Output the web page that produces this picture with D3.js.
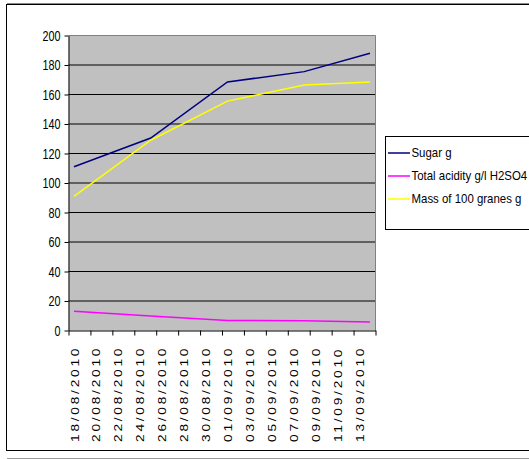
<!DOCTYPE html>
<html>
<head>
<meta charset="utf-8">
<script src="https://cdn.jsdelivr.net/npm/d3@7"></script>
<style>
  html, body { margin: 0; padding: 0; background: #fff; }
  svg { display: block; font-family: "Liberation Sans", Arial, sans-serif; }
</style>
</head>
<body>
<svg id="chart" width="529" height="459"></svg>
<script>
// Sampling dates and measurements
const sampleDates = ["18/08/2010", "25/08/2010", "01/09/2010", "08/09/2010", "14/09/2010"];
const sugar   = [111, 130.5, 168.5, 175.5, 188];
const acidity = [13, 9.8, 6.8, 6.6, 5.7];
const mass    = [91, 129, 155.5, 166.5, 168.5];

// Axis labels
const dateLabels = ["18/08/2010", "20/08/2010", "22/08/2010", "24/08/2010", "26/08/2010",
                    "28/08/2010", "30/08/2010", "01/09/2010", "03/09/2010", "05/09/2010",
                    "07/09/2010", "09/09/2010", "11/09/2010", "13/09/2010"];
const yTicks = [0, 20, 40, 60, 80, 100, 120, 140, 160, 180, 200];

const seriesNames  = ["Sugar g", "Total acidity g/l H2SO4", "Mass of 100 granes g"];
const seriesColors = ["#000080", "#FF00FF", "#FFFF00"];
const seriesValues = [sugar, acidity, mass];

const parseDate = d3.utcParse("%d/%m/%Y");
const HALF_DAY = 12 * 3600 * 1000;

const svg = d3.select("#chart");

// Chart area frame
svg.append("line").attr("x1", 7).attr("x2", 529).attr("y1", 3.5).attr("y2", 3.5)
  .attr("stroke", "#888").attr("stroke-width", 1);
svg.append("rect")
  .attr("x", 6.5).attr("y", 4.5).attr("width", 540).attr("height", 446)
  .attr("fill", "none").attr("stroke", "#000").attr("stroke-width", 1);
svg.append("line").attr("x1", 7).attr("x2", 529).attr("y1", 458.5).attr("y2", 458.5)
  .attr("stroke", "#999").attr("stroke-width", 1);

// Plot area
const plot = { left: 68.5, right: 375.5, top: 35.5, bottom: 330.5 };

const x = d3.scaleUtc()
  .domain([parseDate("18/08/2010"), parseDate("15/09/2010")])
  .range([plot.left, plot.right]);
const y = d3.scaleLinear().domain([0, 200]).range([plot.bottom, plot.top]);

svg.append("rect")
  .attr("x", plot.left).attr("y", plot.top)
  .attr("width", plot.right - plot.left).attr("height", plot.bottom - plot.top)
  .attr("fill", "#C0C0C0");

// Horizontal gridlines
svg.append("g").selectAll("line")
  .data(yTicks.filter(v => v > 0 && v < 200))
  .join("line")
  .attr("x1", plot.left).attr("x2", plot.right)
  .attr("y1", d => y(d)).attr("y2", d => y(d))
  .attr("stroke", "#000").attr("stroke-width", 1);

// Plot area border (top and right)
svg.append("path")
  .attr("d", `M${plot.left},${plot.top}H${plot.right}V${plot.bottom}`)
  .attr("fill", "none").attr("stroke", "#808080").attr("stroke-width", 1);

// Y axis
const ySx = 0.72;
const yAxis = svg.append("g")
  .attr("transform", `translate(${plot.left},0)`)
  .call(d3.axisLeft(y).tickValues(yTicks).tickSize(4).tickPadding(4).tickSizeOuter(0));
yAxis.select(".domain").attr("stroke", "#000");
yAxis.selectAll(".tick line").attr("stroke", "#000");
yAxis.selectAll(".tick text")
  .attr("font-size", 15)
  .attr("fill", "#000")
  .attr("font-family", "'Liberation Sans', Arial, sans-serif")
  .attr("x", -8 / ySx)
  .attr("transform", `scale(${ySx},1)`);

// X axis: ticks every two days on day boundaries
const tickDates = d3.utcDay.range(parseDate("18/08/2010"), d3.utcDay.offset(parseDate("15/09/2010"), 1), 2);
const xAxis = svg.append("g")
  .attr("transform", `translate(0,${plot.bottom})`)
  .call(d3.axisBottom(x).tickValues(tickDates).tickSize(5).tickSizeOuter(0).tickFormat(""));
xAxis.select(".domain").attr("stroke", "#000");
xAxis.selectAll(".tick line").attr("stroke", "#000");

// Rotated date labels
svg.append("g").selectAll("text")
  .data(dateLabels)
  .join("text")
  .attr("transform", d => {
    const cx = x(new Date(parseDate(d).getTime() + HALF_DAY)) + 1;
    return `translate(${cx},442) rotate(-90) scale(1.25,1)`;
  })
  .attr("dominant-baseline", "central")
  .attr("text-anchor", "start")
  .attr("font-size", 11)
  .attr("letter-spacing", 2.2)
  .attr("fill", "#000")
  .text(d => d);

// Series lines
const line = d3.line()
  .x((d, i) => x(new Date(parseDate(sampleDates[i]).getTime() + HALF_DAY)))
  .y(d => y(d));

svg.append("g").selectAll("path")
  .data(seriesValues)
  .join("path")
  .attr("d", d => line(d))
  .attr("fill", "none")
  .attr("stroke", (d, i) => seriesColors[i])
  .attr("stroke-width", 1.5);

// Legend
const legend = svg.append("g");
legend.append("rect")
  .attr("x", 385.5).attr("y", 136.5).attr("width", 160).attr("height", 93)
  .attr("fill", "#fff").attr("stroke", "#000").attr("stroke-width", 1);
const lgSx = 0.88;
const entries = legend.selectAll("g.entry")
  .data(seriesNames)
  .join("g")
  .attr("class", "entry")
  .attr("transform", (d, i) => `translate(0,${153 + i * 23})`);
entries.append("line")
  .attr("x1", 388).attr("x2", 410).attr("y1", 0).attr("y2", 0)
  .attr("stroke", (d, i) => seriesColors[i]).attr("stroke-width", 1.5);
entries.append("text")
  .attr("transform", `translate(411.5,0) scale(${lgSx},1)`)
  .attr("dominant-baseline", "central")
  .attr("font-size", 13)
  .attr("fill", "#000")
  .text(d => d);
</script>
</body>
</html>
